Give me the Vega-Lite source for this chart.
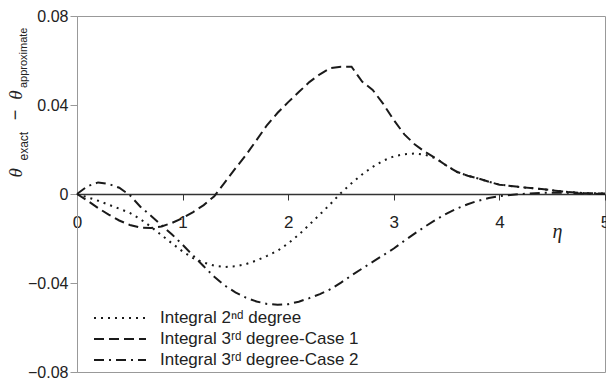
{
  "$schema": "https://vega.github.io/schema/vega-lite/v6.json",
  "width": 528,
  "height": 356,
  "autosize": "none",
  "padding": {"left": 77, "top": 16, "right": 1, "bottom": 8},
  "background": "white",
  "config": {
    "view": {"stroke": "#999999", "strokeWidth": 1},
    "font": "Liberation Sans",
    "axis": {"labelFont": "Liberation Sans", "labelFontSize": 16, "labelColor": "#222222", "grid": false, "title": null}
  },
  "layer": [
    {
      "data": {"values": [
        {"eta": 0, "s": "Integral 2ⁿᵈ degree", "d": 0},
        {"eta": 0.1, "s": "Integral 2ⁿᵈ degree", "d": -0.0015},
        {"eta": 0.2, "s": "Integral 2ⁿᵈ degree", "d": -0.003},
        {"eta": 0.3, "s": "Integral 2ⁿᵈ degree", "d": -0.0048},
        {"eta": 0.4, "s": "Integral 2ⁿᵈ degree", "d": -0.0066},
        {"eta": 0.5, "s": "Integral 2ⁿᵈ degree", "d": -0.0085},
        {"eta": 0.6, "s": "Integral 2ⁿᵈ degree", "d": -0.0113},
        {"eta": 0.7, "s": "Integral 2ⁿᵈ degree", "d": -0.0147},
        {"eta": 0.8, "s": "Integral 2ⁿᵈ degree", "d": -0.0185},
        {"eta": 0.9, "s": "Integral 2ⁿᵈ degree", "d": -0.0222},
        {"eta": 1.0, "s": "Integral 2ⁿᵈ degree", "d": -0.0258},
        {"eta": 1.1, "s": "Integral 2ⁿᵈ degree", "d": -0.0288},
        {"eta": 1.2, "s": "Integral 2ⁿᵈ degree", "d": -0.0308},
        {"eta": 1.3, "s": "Integral 2ⁿᵈ degree", "d": -0.0322},
        {"eta": 1.4, "s": "Integral 2ⁿᵈ degree", "d": -0.0328},
        {"eta": 1.5, "s": "Integral 2ⁿᵈ degree", "d": -0.0325},
        {"eta": 1.6, "s": "Integral 2ⁿᵈ degree", "d": -0.0315},
        {"eta": 1.7, "s": "Integral 2ⁿᵈ degree", "d": -0.0299},
        {"eta": 1.8, "s": "Integral 2ⁿᵈ degree", "d": -0.0278},
        {"eta": 1.9, "s": "Integral 2ⁿᵈ degree", "d": -0.0255},
        {"eta": 2.0, "s": "Integral 2ⁿᵈ degree", "d": -0.0222},
        {"eta": 2.1, "s": "Integral 2ⁿᵈ degree", "d": -0.0183},
        {"eta": 2.2, "s": "Integral 2ⁿᵈ degree", "d": -0.0138},
        {"eta": 2.3, "s": "Integral 2ⁿᵈ degree", "d": -0.0092},
        {"eta": 2.4, "s": "Integral 2ⁿᵈ degree", "d": -0.0045},
        {"eta": 2.5, "s": "Integral 2ⁿᵈ degree", "d": 0.0005},
        {"eta": 2.6, "s": "Integral 2ⁿᵈ degree", "d": 0.0048},
        {"eta": 2.7, "s": "Integral 2ⁿᵈ degree", "d": 0.0088},
        {"eta": 2.8, "s": "Integral 2ⁿᵈ degree", "d": 0.0122},
        {"eta": 2.9, "s": "Integral 2ⁿᵈ degree", "d": 0.015},
        {"eta": 3.0, "s": "Integral 2ⁿᵈ degree", "d": 0.0169},
        {"eta": 3.1, "s": "Integral 2ⁿᵈ degree", "d": 0.0179},
        {"eta": 3.2, "s": "Integral 2ⁿᵈ degree", "d": 0.0182},
        {"eta": 3.3, "s": "Integral 2ⁿᵈ degree", "d": 0.0176},
        {"eta": 3.4, "s": "Integral 2ⁿᵈ degree", "d": 0.016},
        {"eta": 3.5, "s": "Integral 2ⁿᵈ degree", "d": 0.0127},
        {"eta": 3.6, "s": "Integral 2ⁿᵈ degree", "d": 0.0099},
        {"eta": 3.7, "s": "Integral 2ⁿᵈ degree", "d": 0.0082},
        {"eta": 3.8, "s": "Integral 2ⁿᵈ degree", "d": 0.007},
        {"eta": 3.9, "s": "Integral 2ⁿᵈ degree", "d": 0.0055},
        {"eta": 4.0, "s": "Integral 2ⁿᵈ degree", "d": 0.0042},
        {"eta": 4.2, "s": "Integral 2ⁿᵈ degree", "d": 0.0031},
        {"eta": 4.4, "s": "Integral 2ⁿᵈ degree", "d": 0.0022},
        {"eta": 4.6, "s": "Integral 2ⁿᵈ degree", "d": 0.0011},
        {"eta": 4.8, "s": "Integral 2ⁿᵈ degree", "d": 0.0004},
        {"eta": 5.0, "s": "Integral 2ⁿᵈ degree", "d": 0.0002},
        {"eta": 0, "s": "Integral 3ʳᵈ degree-Case 1", "d": 0},
        {"eta": 0.1, "s": "Integral 3ʳᵈ degree-Case 1", "d": -0.003},
        {"eta": 0.2, "s": "Integral 3ʳᵈ degree-Case 1", "d": -0.0063},
        {"eta": 0.3, "s": "Integral 3ʳᵈ degree-Case 1", "d": -0.0093},
        {"eta": 0.4, "s": "Integral 3ʳᵈ degree-Case 1", "d": -0.0119},
        {"eta": 0.5, "s": "Integral 3ʳᵈ degree-Case 1", "d": -0.0139},
        {"eta": 0.6, "s": "Integral 3ʳᵈ degree-Case 1", "d": -0.0151},
        {"eta": 0.7, "s": "Integral 3ʳᵈ degree-Case 1", "d": -0.0153},
        {"eta": 0.8, "s": "Integral 3ʳᵈ degree-Case 1", "d": -0.0146},
        {"eta": 0.9, "s": "Integral 3ʳᵈ degree-Case 1", "d": -0.013},
        {"eta": 1.0, "s": "Integral 3ʳᵈ degree-Case 1", "d": -0.0108},
        {"eta": 1.1, "s": "Integral 3ʳᵈ degree-Case 1", "d": -0.0081},
        {"eta": 1.2, "s": "Integral 3ʳᵈ degree-Case 1", "d": -0.005},
        {"eta": 1.3, "s": "Integral 3ʳᵈ degree-Case 1", "d": -0.001},
        {"eta": 1.4, "s": "Integral 3ʳᵈ degree-Case 1", "d": 0.0052},
        {"eta": 1.5, "s": "Integral 3ʳᵈ degree-Case 1", "d": 0.0115},
        {"eta": 1.6, "s": "Integral 3ʳᵈ degree-Case 1", "d": 0.0175},
        {"eta": 1.7, "s": "Integral 3ʳᵈ degree-Case 1", "d": 0.0242},
        {"eta": 1.8, "s": "Integral 3ʳᵈ degree-Case 1", "d": 0.031},
        {"eta": 1.9, "s": "Integral 3ʳᵈ degree-Case 1", "d": 0.0365},
        {"eta": 2.0, "s": "Integral 3ʳᵈ degree-Case 1", "d": 0.0413},
        {"eta": 2.1, "s": "Integral 3ʳᵈ degree-Case 1", "d": 0.0458},
        {"eta": 2.2, "s": "Integral 3ʳᵈ degree-Case 1", "d": 0.0503},
        {"eta": 2.3, "s": "Integral 3ʳᵈ degree-Case 1", "d": 0.0538},
        {"eta": 2.4, "s": "Integral 3ʳᵈ degree-Case 1", "d": 0.0566},
        {"eta": 2.5, "s": "Integral 3ʳᵈ degree-Case 1", "d": 0.0572},
        {"eta": 2.6, "s": "Integral 3ʳᵈ degree-Case 1", "d": 0.0572},
        {"eta": 2.7, "s": "Integral 3ʳᵈ degree-Case 1", "d": 0.0505},
        {"eta": 2.8, "s": "Integral 3ʳᵈ degree-Case 1", "d": 0.0468},
        {"eta": 2.9, "s": "Integral 3ʳᵈ degree-Case 1", "d": 0.0405},
        {"eta": 3.0, "s": "Integral 3ʳᵈ degree-Case 1", "d": 0.0332},
        {"eta": 3.1, "s": "Integral 3ʳᵈ degree-Case 1", "d": 0.0268},
        {"eta": 3.2, "s": "Integral 3ʳᵈ degree-Case 1", "d": 0.0222},
        {"eta": 3.3, "s": "Integral 3ʳᵈ degree-Case 1", "d": 0.0188},
        {"eta": 3.4, "s": "Integral 3ʳᵈ degree-Case 1", "d": 0.016},
        {"eta": 3.5, "s": "Integral 3ʳᵈ degree-Case 1", "d": 0.0127},
        {"eta": 3.6, "s": "Integral 3ʳᵈ degree-Case 1", "d": 0.0099},
        {"eta": 3.7, "s": "Integral 3ʳᵈ degree-Case 1", "d": 0.0082},
        {"eta": 3.8, "s": "Integral 3ʳᵈ degree-Case 1", "d": 0.007},
        {"eta": 3.9, "s": "Integral 3ʳᵈ degree-Case 1", "d": 0.0055},
        {"eta": 4.0, "s": "Integral 3ʳᵈ degree-Case 1", "d": 0.0042},
        {"eta": 4.2, "s": "Integral 3ʳᵈ degree-Case 1", "d": 0.0031},
        {"eta": 4.4, "s": "Integral 3ʳᵈ degree-Case 1", "d": 0.0022},
        {"eta": 4.6, "s": "Integral 3ʳᵈ degree-Case 1", "d": 0.0011},
        {"eta": 4.8, "s": "Integral 3ʳᵈ degree-Case 1", "d": 0.0004},
        {"eta": 5.0, "s": "Integral 3ʳᵈ degree-Case 1", "d": 0.0002},
        {"eta": 0, "s": "Integral 3ʳᵈ degree-Case 2", "d": 0},
        {"eta": 0.1, "s": "Integral 3ʳᵈ degree-Case 2", "d": 0.0035},
        {"eta": 0.2, "s": "Integral 3ʳᵈ degree-Case 2", "d": 0.0052},
        {"eta": 0.3, "s": "Integral 3ʳᵈ degree-Case 2", "d": 0.0045},
        {"eta": 0.4, "s": "Integral 3ʳᵈ degree-Case 2", "d": 0.0028},
        {"eta": 0.5, "s": "Integral 3ʳᵈ degree-Case 2", "d": -0.0005},
        {"eta": 0.6, "s": "Integral 3ʳᵈ degree-Case 2", "d": -0.0057},
        {"eta": 0.7, "s": "Integral 3ʳᵈ degree-Case 2", "d": -0.0098},
        {"eta": 0.8, "s": "Integral 3ʳᵈ degree-Case 2", "d": -0.014},
        {"eta": 0.9, "s": "Integral 3ʳᵈ degree-Case 2", "d": -0.0182},
        {"eta": 1.0, "s": "Integral 3ʳᵈ degree-Case 2", "d": -0.0228},
        {"eta": 1.1, "s": "Integral 3ʳᵈ degree-Case 2", "d": -0.0277},
        {"eta": 1.2, "s": "Integral 3ʳᵈ degree-Case 2", "d": -0.0325},
        {"eta": 1.3, "s": "Integral 3ʳᵈ degree-Case 2", "d": -0.0372},
        {"eta": 1.4, "s": "Integral 3ʳᵈ degree-Case 2", "d": -0.0412},
        {"eta": 1.5, "s": "Integral 3ʳᵈ degree-Case 2", "d": -0.0442},
        {"eta": 1.6, "s": "Integral 3ʳᵈ degree-Case 2", "d": -0.0466},
        {"eta": 1.7, "s": "Integral 3ʳᵈ degree-Case 2", "d": -0.0483},
        {"eta": 1.8, "s": "Integral 3ʳᵈ degree-Case 2", "d": -0.0494},
        {"eta": 1.9, "s": "Integral 3ʳᵈ degree-Case 2", "d": -0.0498},
        {"eta": 2.0, "s": "Integral 3ʳᵈ degree-Case 2", "d": -0.0495},
        {"eta": 2.1, "s": "Integral 3ʳᵈ degree-Case 2", "d": -0.0484},
        {"eta": 2.2, "s": "Integral 3ʳᵈ degree-Case 2", "d": -0.0468},
        {"eta": 2.3, "s": "Integral 3ʳᵈ degree-Case 2", "d": -0.045},
        {"eta": 2.4, "s": "Integral 3ʳᵈ degree-Case 2", "d": -0.0428},
        {"eta": 2.5, "s": "Integral 3ʳᵈ degree-Case 2", "d": -0.0398},
        {"eta": 2.6, "s": "Integral 3ʳᵈ degree-Case 2", "d": -0.0366},
        {"eta": 2.7, "s": "Integral 3ʳᵈ degree-Case 2", "d": -0.0335},
        {"eta": 2.8, "s": "Integral 3ʳᵈ degree-Case 2", "d": -0.0305},
        {"eta": 2.9, "s": "Integral 3ʳᵈ degree-Case 2", "d": -0.0275},
        {"eta": 3.0, "s": "Integral 3ʳᵈ degree-Case 2", "d": -0.0245},
        {"eta": 3.1, "s": "Integral 3ʳᵈ degree-Case 2", "d": -0.021},
        {"eta": 3.2, "s": "Integral 3ʳᵈ degree-Case 2", "d": -0.0177},
        {"eta": 3.3, "s": "Integral 3ʳᵈ degree-Case 2", "d": -0.0145},
        {"eta": 3.4, "s": "Integral 3ʳᵈ degree-Case 2", "d": -0.0115},
        {"eta": 3.5, "s": "Integral 3ʳᵈ degree-Case 2", "d": -0.0088},
        {"eta": 3.6, "s": "Integral 3ʳᵈ degree-Case 2", "d": -0.0065},
        {"eta": 3.7, "s": "Integral 3ʳᵈ degree-Case 2", "d": -0.0046},
        {"eta": 3.8, "s": "Integral 3ʳᵈ degree-Case 2", "d": -0.003},
        {"eta": 3.9, "s": "Integral 3ʳᵈ degree-Case 2", "d": -0.0018},
        {"eta": 4.0, "s": "Integral 3ʳᵈ degree-Case 2", "d": -0.001},
        {"eta": 4.2, "s": "Integral 3ʳᵈ degree-Case 2", "d": 0.0},
        {"eta": 4.4, "s": "Integral 3ʳᵈ degree-Case 2", "d": 0.0005},
        {"eta": 4.6, "s": "Integral 3ʳᵈ degree-Case 2", "d": 0.0006},
        {"eta": 4.8, "s": "Integral 3ʳᵈ degree-Case 2", "d": 0.0002},
        {"eta": 5.0, "s": "Integral 3ʳᵈ degree-Case 2", "d": 0.0}
      ]},
      "mark": {"type": "line", "color": "#1a1a1a", "strokeWidth": 2},
      "encoding": {
        "x": {"field": "eta", "type": "quantitative",
              "scale": {"domain": [0, 5], "nice": false, "zero": false},
              "axis": {"orient": "bottom", "offset": -178, "values": [0, 1, 2, 3, 4, 5], "format": "d",
                       "labelFontSize": 17,
                       "domainColor": "#333333", "domainWidth": 1.3, "tickColor": "#333333", "tickSize": 6,
                       "labelPadding": 14, "labelFlush": false, "labelOverlap": false}},
        "y": {"field": "d", "type": "quantitative",
              "scale": {"domain": [-0.08, 0.08], "nice": false, "zero": false},
              "axis": {"values": [-0.08, -0.04, 0, 0.04, 0.08], "format": ".2~f",
                       "domainColor": "#999999", "tickColor": "#999999", "tickSize": 7, "labelPadding": 2}},
        "strokeDash": {"field": "s", "type": "nominal",
          "scale": {"domain": ["Integral 2ⁿᵈ degree", "Integral 3ʳᵈ degree-Case 1", "Integral 3ʳᵈ degree-Case 2"],
                    "range": [[2, 5], [10, 5], [10, 5, 2, 5]]},
          "legend": {"title": null, "orient": "none", "legendX": 16, "legendY": 292,
                     "symbolType": "stroke", "symbolSize": 2700, "symbolStrokeWidth": 2, "symbolStrokeColor": "#1a1a1a",
                     "clipHeight": 20, "rowPadding": 1,
                     "labelFont": "Liberation Sans", "labelFontSize": 17, "labelColor": "#222222",
                     "labelOffset": 13, "labelLimit": 400}},
        "order": {"field": "eta", "type": "quantitative"}
      }
    },
    {
      "data": {"values": [{"t": "η"}]},
      "mark": {"type": "text", "font": "Liberation Serif", "fontStyle": "italic", "fontSize": 20, "color": "#222222", "align": "center", "baseline": "middle"},
      "encoding": {"x": {"datum": 4.55}, "y": {"datum": -0.017}, "text": {"field": "t"}}
    },
    {
      "data": {"values": [{"t": "θ"}]},
      "mark": {"type": "text", "font": "Liberation Serif", "fontStyle": "italic", "fontSize": 19, "color": "#222222", "align": "center", "baseline": "middle", "angle": 270},
      "encoding": {"x": {"datum": -0.578}, "y": {"datum": 0.0095}, "text": {"field": "t"}}
    },
    {
      "data": {"values": [{"t": "exact"}]},
      "mark": {"type": "text", "font": "Liberation Sans", "fontSize": 12, "color": "#222222", "align": "center", "baseline": "middle", "angle": 270},
      "encoding": {"x": {"datum": -0.505}, "y": {"datum": 0.0215}, "text": {"field": "t"}}
    },
    {
      "data": {"values": [{"t": "−"}]},
      "mark": {"type": "text", "font": "Liberation Sans", "fontSize": 18, "color": "#222222", "align": "center", "baseline": "middle", "angle": 270},
      "encoding": {"x": {"datum": -0.578}, "y": {"datum": 0.0355}, "text": {"field": "t"}}
    },
    {
      "data": {"values": [{"t": "θ"}]},
      "mark": {"type": "text", "font": "Liberation Serif", "fontStyle": "italic", "fontSize": 19, "color": "#222222", "align": "center", "baseline": "middle", "angle": 270},
      "encoding": {"x": {"datum": -0.578}, "y": {"datum": 0.0445}, "text": {"field": "t"}}
    },
    {
      "data": {"values": [{"t": "approximate"}]},
      "mark": {"type": "text", "font": "Liberation Sans", "fontSize": 11, "color": "#222222", "align": "center", "baseline": "middle", "angle": 270},
      "encoding": {"x": {"datum": -0.505}, "y": {"datum": 0.0612}, "text": {"field": "t"}}
    }
  ]
}
